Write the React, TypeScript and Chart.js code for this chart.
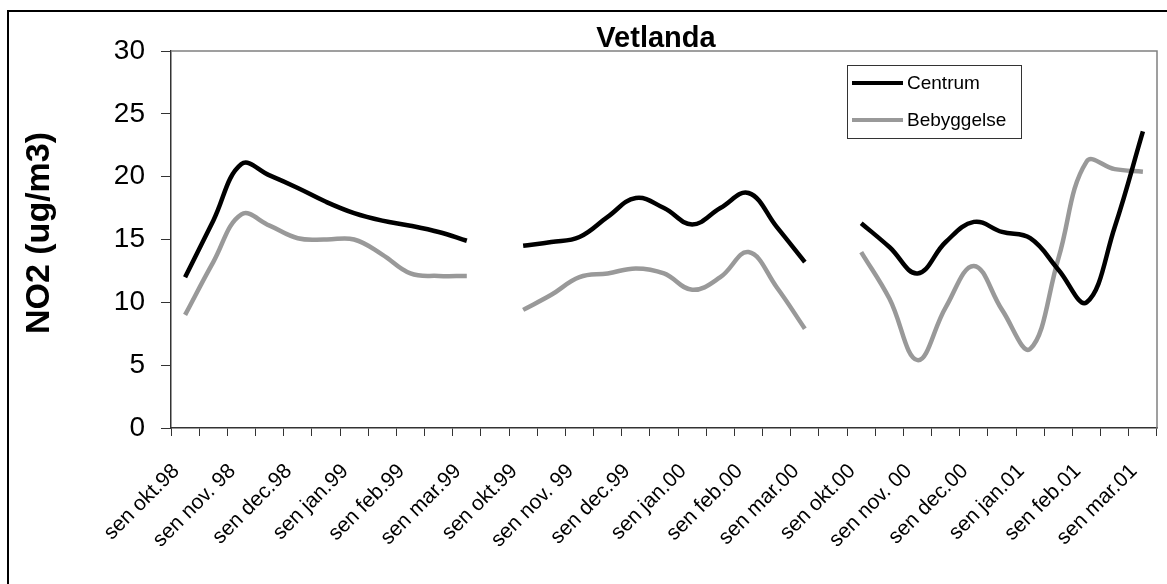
import React, { useEffect, useRef } from "react";
import { Chart, registerables } from "chart.js";

Chart.register(...registerables);

const chartTitle = "Vetlanda";
const yAxisTitle = "NO2 (ug/m3)";

const categories = [
  "sen okt.98", "", "sen nov. 98", "", "sen dec.98", "", "sen jan.99", "", "sen feb.99", "", "sen mar.99", "",
  "sen okt.99", "", "sen nov. 99", "", "sen dec.99", "", "sen jan.00", "", "sen feb.00", "", "sen mar.00", "",
  "sen okt.00", "", "sen nov. 00", "", "sen dec.00", "", "sen jan.01", "", "sen feb.01", "", "sen mar.01",
];

const centrum = [
  12.0, 16.5, 21.0, 20.1, 19.1, 18.0, 17.1, 16.5, 16.1, 15.6, 14.9, null,
  14.5, 14.8, 15.2, 16.8, 18.3, 17.5, 16.2, 17.5, 18.7, 16.0, 13.2, null,
  16.3, 14.4, 12.3, 14.8, 16.4, 15.6, 15.1, 12.6, 10.0, 16.0, 23.6,
];

const bebyggelse = [
  9.0, 13.2, 17.0, 16.1, 15.1, 15.0, 15.0, 13.8, 12.3, 12.1, 12.1, null,
  9.4, 10.6, 12.0, 12.3, 12.7, 12.3, 11.0, 12.0, 14.0, 11.2, 7.9, null,
  14.0, 10.3, 5.4, 9.6, 12.9, 9.4, 6.3, 13.5, 21.2, 20.6, 20.4,
];

const seriesNames = ["Centrum", "Bebyggelse"];
const seriesColors = ["#000000", "#999999"];

const yMin = 0;
const yMax = 30;
const yStep = 5;

const FONT = "'Liberation Sans', Arial, sans-serif";

const decorPlugin = {
  id: "decor",
  beforeDatasetsDraw(chart: any) {
    const { ctx, chartArea: ca } = chart;
    ctx.save();
    ctx.strokeStyle = "#808080";
    ctx.lineWidth = 1.5;
    ctx.beginPath();
    ctx.moveTo(ca.left, ca.top);
    ctx.lineTo(ca.right, ca.top);
    ctx.lineTo(ca.right, ca.bottom);
    ctx.stroke();
    ctx.restore();
  },
  afterDraw(chart: any) {
    const { ctx } = chart;
    ctx.save();
    // outer frame (left and top edges visible)
    ctx.strokeStyle = "#000";
    ctx.lineWidth = 2;
    ctx.beginPath();
    ctx.moveTo(8, 700);
    ctx.lineTo(8, 11);
    ctx.lineTo(1400, 11);
    ctx.stroke();

    // title
    ctx.fillStyle = "#000";
    ctx.font = `bold 29px ${FONT}`;
    ctx.textAlign = "center";
    ctx.textBaseline = "alphabetic";
    ctx.fillText(chartTitle, 656, 47);

    // y-axis title
    ctx.save();
    ctx.translate(40, 233);
    ctx.rotate(-Math.PI / 2);
    ctx.font = `bold 34px ${FONT}`;
    ctx.textAlign = "center";
    ctx.textBaseline = "middle";
    ctx.fillText(yAxisTitle, 0, 0);
    ctx.restore();

    // legend
    const lx = 847, ly = 65, lw = 174, lh = 73;
    ctx.fillStyle = "#fff";
    ctx.fillRect(lx, ly, lw, lh);
    ctx.strokeStyle = "#333";
    ctx.lineWidth = 1;
    ctx.strokeRect(lx + 0.5, ly + 0.5, lw, lh);
    chart.data.datasets.forEach((ds: any, i: number) => {
      const y = 83 + 37 * i;
      ctx.strokeStyle = ds.borderColor;
      ctx.lineWidth = 4;
      ctx.beginPath();
      ctx.moveTo(852, y);
      ctx.lineTo(903, y);
      ctx.stroke();
      ctx.fillStyle = "#000";
      ctx.font = `19px ${FONT}`;
      ctx.textAlign = "left";
      ctx.textBaseline = "middle";
      ctx.fillText(ds.label, 907, y + 1);
    });
    ctx.restore();
  },
};

export default function App() {
  const canvasRef = useRef<HTMLCanvasElement | null>(null);

  useEffect(() => {
    document.body.style.margin = "0";
    const canvas = canvasRef.current;
    if (!canvas) return;
    const chart = new Chart(canvas, {
      type: "line",
      data: {
        labels: categories,
        datasets: [
          {
            label: seriesNames[0],
            data: centrum,
            borderColor: seriesColors[0],
            backgroundColor: seriesColors[0],
            borderWidth: 4.5,
            pointRadius: 0,
            tension: 0.4,
            spanGaps: false,
            borderJoinStyle: "round",
          },
          {
            label: seriesNames[1],
            data: bebyggelse,
            borderColor: seriesColors[1],
            backgroundColor: seriesColors[1],
            borderWidth: 4.5,
            pointRadius: 0,
            tension: 0.4,
            spanGaps: false,
            borderJoinStyle: "round",
          },
        ],
      },
      options: {
        responsive: false,
        animation: false,
        layout: { padding: { top: 51, right: 10, left: 0, bottom: 0 } },
        plugins: {
          legend: { display: false },
          title: { display: false },
          tooltip: { enabled: false },
        },
        scales: {
          x: {
            type: "category",
            offset: true,
            afterFit: (s: any) => {
              s.height = 156;
              s.paddingLeft = 0;
              s.paddingRight = 0;
            },
            grid: {
              offset: true,
              drawOnChartArea: false,
              drawTicks: true,
              tickLength: 8,
              color: "#333",
              lineWidth: 1,
            },
            border: { color: "#333", width: 1.5 },
            ticks: {
              autoSkip: false,
              maxRotation: 45,
              minRotation: 45,
              labelOffset: -9,
              padding: 23,
              color: "#000",
              font: { family: FONT, size: 21 },
            },
          },
          y: {
            min: yMin,
            max: yMax,
            afterFit: (s: any) => {
              s.width = 171;
            },
            grid: {
              drawOnChartArea: false,
              drawTicks: true,
              tickLength: 10,
              color: "#333",
              lineWidth: 1,
            },
            border: { color: "#333", width: 1.5 },
            ticks: {
              stepSize: yStep,
              padding: 16,
              color: "#000",
              font: { family: FONT, size: 28 },
            },
          },
        },
      },
      plugins: [decorPlugin],
    });
    return () => chart.destroy();
  }, []);

  return (
    <div style={{ width: 1167, height: 584 }}>
      <canvas ref={canvasRef} width={1167} height={584} style={{ display: "block" }} />
    </div>
  );
}
